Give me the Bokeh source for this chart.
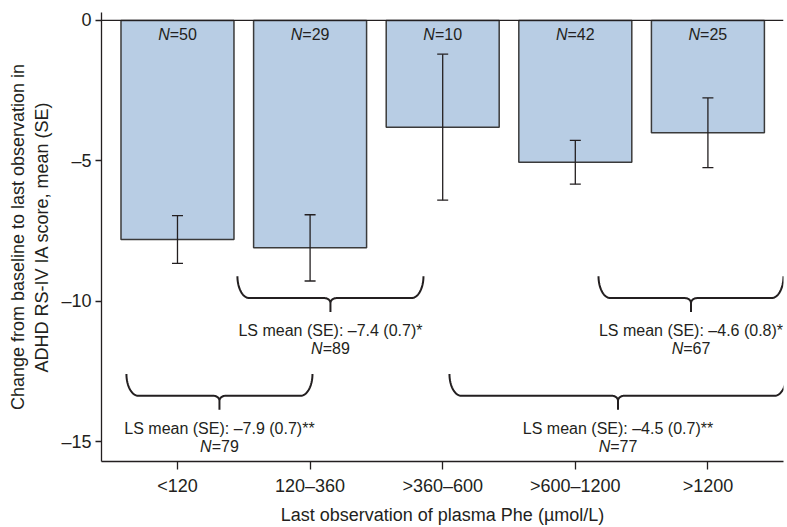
import numpy as np
from bokeh.plotting import figure
from bokeh.models import ColumnDataSource, Range1d, FixedTicker, Span, Whisker, TeeHead
from bokeh.embed import file_html
from bokeh.resources import INLINE
from bokeh.core.properties import value

# ---------------- data ----------------
categories = ["<120", "120–360", ">360–600", ">600–1200", ">1200"]
means = [-7.8, -8.1, -3.8, -5.05, -4.0]
se = [0.85, 1.18, 2.6, 0.78, 1.24]
n_counts = [50, 29, 10, 42, 25]

brace_text = ["LS mean (SE): –7.4 (0.7)*", "LS mean (SE): –4.6 (0.8)*",
              "LS mean (SE): –7.9 (0.7)**", "LS mean (SE): –4.5 (0.7)**"]
brace_n = [89, 67, 79, 77]

y_ticks = [0, -5, -10, -15]
y_tick_labels = ["0", "–5", "–10", "–15"]

# ---------------- layout constants ----------------
FONT = "Liberation Sans"
INK = "#231f20"
X0, X1 = -0.573, 4.57
Y0, Y1 = -15.71, 0.284
FRAME_W, FRAME_H = 682, 451
PX_X = FRAME_W / (X1 - X0)
PX_Y = FRAME_H / (Y1 - Y0)

# brace geometry (x from, x to, arm top y) -- annotation placement
brace_geom = [(0.452, 1.855, -9.11), (3.175, 4.57, -9.11),
              (-0.385, 1.018, -12.59), (2.051, 4.593, -12.59)]
ARM_PX, TIP_PX = 22, 14

p = figure(width=785, height=527, output_backend="svg", toolbar_location=None,
           x_range=Range1d(X0, X1), y_range=Range1d(Y0, Y1),
           min_border_left=101, min_border_right=2, min_border_top=12, min_border_bottom=64)
p.outline_line_color = None
p.xgrid.visible = False
p.ygrid.visible = False
p.background_fill_color = "white"

xs = list(range(len(categories)))
src = ColumnDataSource(dict(x=xs, top=[0] * len(xs), bottom=means,
                            upper=[m + s for m, s in zip(means, se)],
                            lower=[m - s for m, s in zip(means, se)]))
p.vbar(x="x", top="top", bottom="bottom", width=0.852, source=src,
       fill_color="#b8cde4", line_color="#3a3a3a", line_width=1.5)

wh = Whisker(base="x", upper="upper", lower="lower", source=src,
             line_color=INK, line_width=1.3, level="overlay",
             upper_head=TeeHead(size=11, line_color=INK, line_width=1.3),
             lower_head=TeeHead(size=11, line_color=INK, line_width=1.3))
p.add_layout(wh)

p.add_layout(Span(location=0, dimension="width", line_color=INK, line_width=1.3))


def n_label(xc, yc, n, size_px=16):
    # italic "N" followed by upright "=n", centred as a whole at xc
    wN = 0.722 * size_px
    wR = (0.584 + 0.556 * len(str(n))) * size_px
    start = -(wN + wR) / 2
    return (xc, yc, start + wN, "=" + str(n))


# N labels on bars
nl = [n_label(x, -0.5, n) for x, n in zip(xs, n_counts)]
nsrc = ColumnDataSource(dict(x=[a[0] for a in nl], y=[a[1] for a in nl],
                             off=[a[2] for a in nl], rest=[a[3] for a in nl],
                             N=["N"] * len(nl)))
p.text(x="x", y="y", text="N", x_offset="off", source=nsrc, text_align="right",
       text_baseline="middle", text_font=value(FONT), text_font_style="italic",
       text_font_size="16px", text_color=INK)
p.text(x="x", y="y", text="rest", x_offset="off", source=nsrc, text_align="left",
       text_baseline="middle", text_font=value(FONT),
       text_font_size="16px", text_color=INK)


# braces
def brace_path(xa, xb, y_arm):
    y_flat = y_arm - ARM_PX / PX_Y
    y_tip = y_flat - TIP_PX / PX_Y
    rx = 12 / PX_X
    ry = y_arm - y_flat
    xc = (xa + xb) / 2
    w = 6 / PX_X
    hc = 5 / PX_Y
    t = np.linspace(np.pi, 1.5 * np.pi, 20)
    lx = list(xa + rx + rx * np.cos(t)); ly = list(y_arm + ry * np.sin(t))
    t2 = np.linspace(0.5 * np.pi, 0, 12)
    cx = list((xc - w) + w * np.cos(t2)); cy = list((y_flat - hc) + hc * np.sin(t2))
    left_x = lx + cx + [xc]
    left_y = ly + cy + [y_tip]
    right_x = [2 * xc - v for v in left_x[::-1]]
    right_y = left_y[::-1]
    return left_x + right_x, left_y + right_y, xc, y_tip


bxs, bys, tx, ty1, ty2 = [], [], [], [], []
for (xa, xb, ya) in brace_geom:
    bx, by, xc, ytip = brace_path(xa, xb, ya)
    bxs.append(bx); bys.append(by)
    tx.append(xc)
    ty1.append(ytip - 19 / PX_Y)
    ty2.append(ytip - 37 / PX_Y)
p.multi_line(xs=bxs, ys=bys, line_color=INK, line_width=2)

bt = ColumnDataSource(dict(x=tx, y=ty1, t=brace_text))
p.text(x="x", y="y", text="t", source=bt, text_align="center", text_baseline="middle",
       text_font=value(FONT), text_font_size="16px", text_color=INK)
bl = [n_label(x, y, n) for x, y, n in zip(tx, ty2, brace_n)]
bnsrc = ColumnDataSource(dict(x=[a[0] for a in bl], y=[a[1] for a in bl],
                              off=[a[2] for a in bl], rest=[a[3] for a in bl],
                              N=["N"] * len(bl)))
p.text(x="x", y="y", text="N", x_offset="off", source=bnsrc, text_align="right",
       text_baseline="middle", text_font=value(FONT), text_font_style="italic",
       text_font_size="16px", text_color=INK)
p.text(x="x", y="y", text="rest", x_offset="off", source=bnsrc, text_align="left",
       text_baseline="middle", text_font=value(FONT),
       text_font_size="16px", text_color=INK)

# axes
for ax in (p.xaxis, p.yaxis):
    ax.axis_line_color = INK
    ax.axis_line_width = 1.3
    ax.major_tick_line_color = INK
    ax.major_tick_line_width = 1.3
    ax.minor_tick_line_color = None
    ax.major_tick_in = 0
    ax.major_label_text_font = FONT
    ax.major_label_text_font_size = "18px"
    ax.major_label_text_color = INK
    ax.axis_label_text_font = FONT
    ax.axis_label_text_font_size = "18px"
    ax.axis_label_text_font_style = "normal"
    ax.axis_label_text_color = INK

p.xaxis.ticker = FixedTicker(ticks=xs)
p.xaxis.major_label_overrides = {x: c for x, c in zip(xs, categories)}
p.xaxis.major_tick_out = 8
p.xaxis.major_label_standoff = 6
p.xaxis.axis_label = "Last observation of plasma Phe (µmol/L)"
p.xaxis.axis_label_standoff = 6

p.yaxis.ticker = FixedTicker(ticks=y_ticks)
p.yaxis.major_label_overrides = {t: l for t, l in zip(y_ticks, y_tick_labels)}
p.yaxis.major_tick_out = 6
p.yaxis.major_label_standoff = 4
p.yaxis.axis_label = "Change from baseline to last observation in\nADHD RS-IV IA score, mean (SE)"
p.yaxis.axis_label_standoff = 6

open("out.html", "w").write(file_html(p, INLINE))
